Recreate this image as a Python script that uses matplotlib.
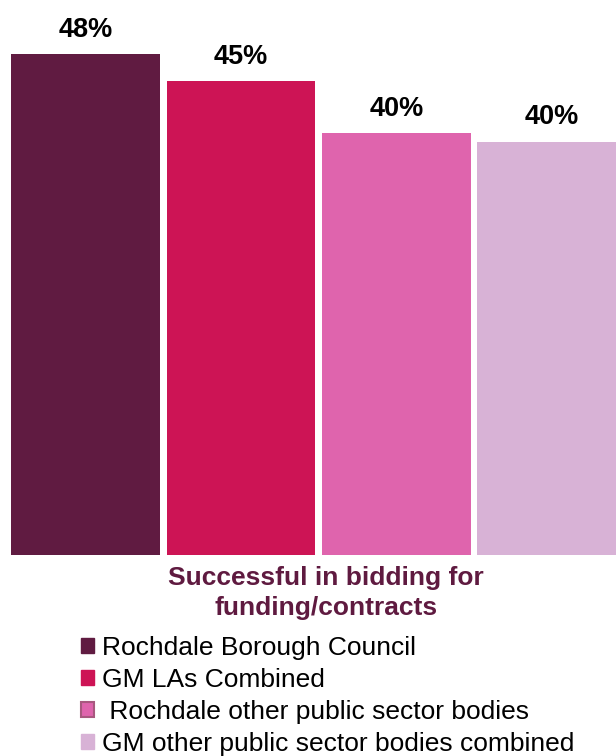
import matplotlib.pyplot as plt
import numpy as np
from matplotlib.patches import Patch

# Data
series = ['Rochdale Borough Council', 'GM LAs Combined',
          ' Rochdale other public sector bodies', 'GM other public sector bodies combined']
values = [48.0, 45.4, 40.4, 39.6]
labels = ['48%', '45%', '40%', '40%']
colors = ['#601B41', '#CD1455', '#DF64AD', '#D8B2D6']
title = 'Successful in bidding for\nfunding/contracts'

plt.rcParams['font.family'] = ['Liberation Sans', 'DejaVu Sans']

fig = plt.figure(figsize=(6.16, 7.56), dpi=100)
ax = fig.add_axes([0, 201 / 756, 1, 555 / 756])

x = np.arange(len(values))
bars = ax.bar(x, values, width=0.958, color=colors, linewidth=0)

for xi, v, lab in zip(x, values, labels):
    ax.annotate(lab, (xi, v), xytext=(0, 17.5), textcoords='offset points',
                ha='center', va='center', fontsize=19.5, fontweight='bold', color='black')

ax.set_xlim(-0.55, 3.412)
ax.set_ylim(0, 53.17)
ax.axis('off')

fig.text(326 / 616, (756 - 593) / 756, title, ha='center', va='center',
         fontsize=19, fontweight='bold', color='#5F1A40', linespacing=1.3)

handles = [Patch(facecolor=c, edgecolor=c) for c in colors]
handles[2] = Patch(facecolor=colors[2], edgecolor='#A8587F', linewidth=1.5)
fig.legend(handles, series, loc='upper left', bbox_to_anchor=(81 / 616, (756 - 636) / 756),
           frameon=False, fontsize=19, handlelength=0.5, handleheight=0.5,
           handletextpad=0.3, labelspacing=0.3, borderpad=0, borderaxespad=0)

fig.savefig('out.png', dpi=100)
